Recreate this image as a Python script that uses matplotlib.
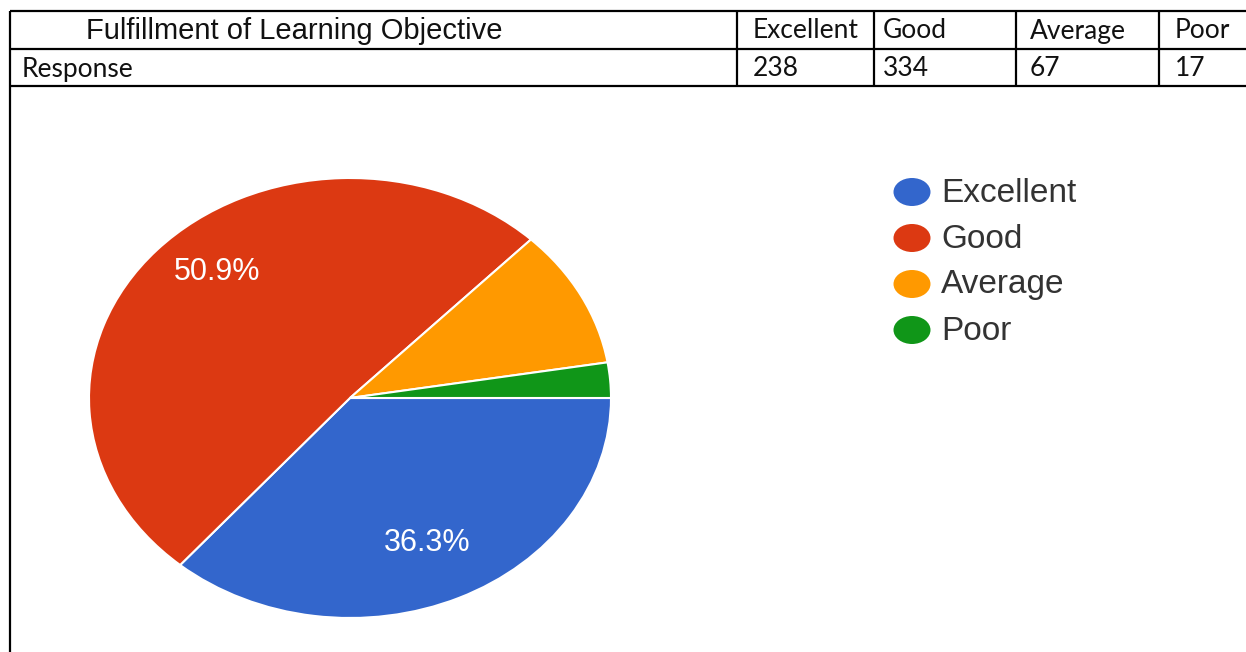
import matplotlib
matplotlib.use("Agg")
import matplotlib.pyplot as plt
from matplotlib.patches import Ellipse

# ---- data ----
title_label = "Fulfillment of Learning Objective"
row_label = "Response"
categories = ["Excellent", "Good", "Average", "Poor"]
responses = [238, 334, 67, 17]
colors = ["#3366CC", "#DC3912", "#FF9900", "#109618"]

W, H = 1246, 652
fig = plt.figure(figsize=(W / 100, H / 100), dpi=100)
fig.patch.set_facecolor("white")

# overlay axes in pixel coordinates
ax0 = fig.add_axes([0, 0, 1, 1])
ax0.set_xlim(0, W)
ax0.set_ylim(H, 0)
ax0.axis("off")

# ---- table ----
lw = 1.6
row_y = [11, 49, 86]
for y in row_y:
    ax0.plot([10, W], [y, y], color="black", lw=lw, solid_capstyle="butt")
ax0.plot([10, 10], [11, H], color="black", lw=lw, solid_capstyle="butt")
col_x = [737, 874, 1016, 1159]
for x in col_x:
    ax0.plot([x, x], [11, 86], color="black", lw=lw, solid_capstyle="butt")

ax0.text(86, 31, title_label, fontsize=21, family="Liberation Sans",
         va="center", ha="left", color="#111111")
ax0.text(22, 69, row_label, fontsize=19, family="Lato",
         va="center", ha="left", color="#111111")
text_x = [753, 883, 1030, 1175]
for x, c, v in zip(text_x, categories, responses):
    ax0.text(x, 31, c, fontsize=19, family="Lato", va="center", ha="left", color="#111111")
    ax0.text(x, 69, str(v), fontsize=19, family="Lato", va="center", ha="left", color="#111111")

# ---- pie ----
cx, cy, rx, ry = 350, 398, 261, 220
axp = fig.add_axes([(cx - rx) / W, (H - (cy + ry)) / H, 2 * rx / W, 2 * ry / H])


def fmt(p):
    return f"{p:.1f}%" if p > 20 else ""


wedges, texts, autotexts = axp.pie(
    responses, colors=colors, startangle=0, counterclock=False,
    autopct=fmt, pctdistance=0.74,
    wedgeprops=dict(edgecolor="white", linewidth=1.5),
    textprops=dict(color="white", fontsize=22, family="Liberation Sans"),
)
autotexts[1].set_position((-0.51, 0.575))
autotexts[0].set_position((0.295, -0.66))
axp.set_aspect("auto")
axp.set_xlim(-1, 1)
axp.set_ylim(-1, 1)
axp.axis("off")

# ---- legend ----
leg_y0, leg_dy = 192, 46
for i, (c, col) in enumerate(zip(categories, colors)):
    y = leg_y0 + i * leg_dy
    ax0.add_patch(Ellipse((912, y), 37, 28, facecolor=col, edgecolor="none"))
    ax0.text(941, y + 1, c, fontsize=24, family="Liberation Sans", va="center",
             ha="left", color="#333333")

fig.savefig("out.png", dpi=100, facecolor="white")
